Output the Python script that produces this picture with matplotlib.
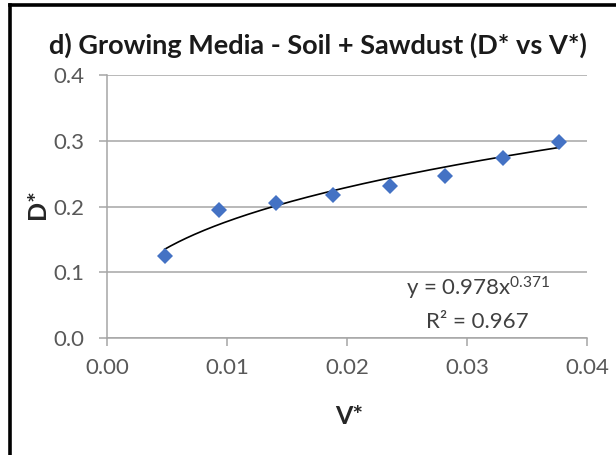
import numpy as np
import matplotlib
matplotlib.use("Agg")
import matplotlib.pyplot as plt
from matplotlib.lines import Line2D

# Dimensionless data: V* (x) and D* (y)
v_star = [0.0048, 0.0093, 0.0141, 0.0188, 0.0236, 0.0282, 0.0330, 0.0377]
d_star = [0.125, 0.194, 0.205, 0.217, 0.231, 0.247, 0.274, 0.298]

# Power-law trendline  y = a * x^b
fit_a = 0.978
fit_b = 0.371
fit_r2 = 0.967

x_ticks = [0.00, 0.01, 0.02, 0.03, 0.04]
y_ticks = [0.0, 0.1, 0.2, 0.3, 0.4]

title = "d) Growing Media - Soil + Sawdust (D* vs V*)"
x_label = "V*"
y_label = "D*"

plt.rcParams["font.family"] = ["Lato", "DejaVu Sans"]
plt.rcParams["mathtext.default"] = "regular"

grid_col = "#A6A6A6"
tick_col = "#595959"
marker_col = "#4472C4"

fig = plt.figure(figsize=(6.16, 4.55), dpi=100)
fig.patch.set_facecolor("white")
ax = fig.add_axes([107 / 616, 1 - 338 / 455, 480 / 616, 263 / 455])

ax.set_xlim(x_ticks[0], x_ticks[-1])
ax.set_ylim(y_ticks[0], y_ticks[-1])
ax.set_xticks(x_ticks)
ax.set_yticks(y_ticks)
ax.set_xticklabels([f"{t:.2f}" for t in x_ticks])
ax.set_yticklabels([f"{t:.1f}" for t in y_ticks])

ax.yaxis.grid(True, color=grid_col, linewidth=1.1)
ax.set_axisbelow(True)
for s in ("top", "right"):
    ax.spines[s].set_visible(False)
for s in ("left", "bottom"):
    ax.spines[s].set_color(grid_col)
    ax.spines[s].set_linewidth(1.1)

ax.tick_params(axis="both", direction="out", length=5.5, width=1.1,
               color=grid_col, labelcolor=tick_col, labelsize=16)
ax.tick_params(axis="y", pad=11)
ax.tick_params(axis="x", pad=9)

# Trendline over the range of the data
xs = np.linspace(min(v_star), max(v_star), 200)
ax.plot(xs, fit_a * xs ** fit_b, color="black", linewidth=1.2, zorder=3)

ax.plot(v_star, d_star, linestyle="none", marker="D", markersize=8.6,
        markerfacecolor=marker_col, markeredgewidth=0, zorder=4)

ax.text(0.773, 0.19, f"y = {fit_a}x$^{{{fit_b}}}$", transform=ax.transAxes,
        ha="center", va="center", fontsize=16, color="#404040")
ax.text(0.772, 0.061, f"R² = {fit_r2}", transform=ax.transAxes,
        ha="center", va="center", fontsize=16, color="#404040")

ax.set_xlabel(x_label, fontsize=18, fontweight="bold", color="#262626")
ax.xaxis.label.set_va("center")
ax.xaxis.set_label_coords(0.505, -0.3)
ax.set_ylabel(y_label, fontsize=18, fontweight="bold", color="#262626")
ax.yaxis.label.set_va("center")
ax.yaxis.set_label_coords(-0.145, 0.51)

fig.text(318 / 616, 1 - 45 / 455, title, ha="center", va="center",
         fontsize=19.5, fontweight="bold", color="#1a1a1a")

# Outer chart border (left and top edges)
fig.add_artist(Line2D([9.5 / 616, 9.5 / 616], [-0.02, 1 - 5 / 455],
                      transform=fig.transFigure, color="black", linewidth=2.6))
fig.add_artist(Line2D([9.5 / 616, 1.02], [1 - 5 / 455, 1 - 5 / 455],
                      transform=fig.transFigure, color="black", linewidth=2.6))

fig.savefig("out.png", dpi=100, facecolor="white")
